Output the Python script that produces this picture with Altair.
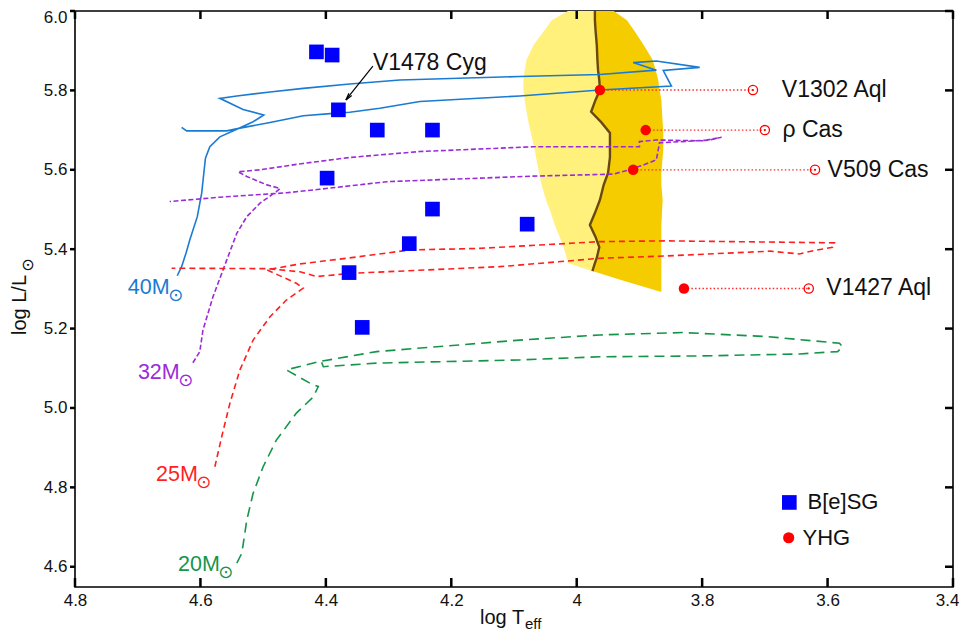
import altair as alt
import pandas as pd

FONT = "Liberation Sans"

# ---------------- data (log Teff, log L/Lsun) ----------------
bsg_teff = [4.415, 4.390, 4.380, 4.318, 4.230, 4.398, 4.230, 4.079, 4.267, 4.363, 4.342]
bsg_lum = [5.897, 5.889, 5.751, 5.700, 5.700, 5.579, 5.501, 5.463, 5.414, 5.341, 5.203]

yhg_names = ["V1302 Aql", "ρ Cas", "V509 Cas", "V1427 Aql"]
yhg_teff = [3.963, 3.890, 3.910, 3.829]
yhg_lum = [5.801, 5.700, 5.600, 5.301]
yhg_ref_teff = [3.719, 3.700, 3.620, 3.630]
yhg_label_teff = [3.673, 3.672, 3.600, 3.602]

t40_teff = [4.637, 4.630, 4.623, 4.617, 4.605, 4.598, 4.594, 4.592, 4.585, 4.569, 4.542, 4.516, 4.499,
            4.532, 4.569, 4.542, 4.489, 4.436, 4.362, 4.282, 4.091, 3.963, 3.873, 3.910, 3.873, 3.804,
            3.862, 3.849, 3.963, 4.091, 4.250, 4.314, 4.362, 4.388, 4.436, 4.489, 4.537, 4.558, 4.596,
            4.622, 4.630]
t40_lum = [5.333, 5.356, 5.390, 5.423, 5.482, 5.541, 5.600, 5.629, 5.658, 5.683, 5.702, 5.721, 5.738,
           5.752, 5.780, 5.786, 5.796, 5.805, 5.816, 5.826, 5.835, 5.840, 5.851, 5.870, 5.874, 5.858,
           5.850, 5.811, 5.801, 5.786, 5.772, 5.755, 5.745, 5.742, 5.736, 5.719, 5.705, 5.698, 5.698,
           5.698, 5.707]

t32_teff = [4.612, 4.601, 4.596, 4.580, 4.558, 4.542, 4.526, 4.505, 4.479, 4.473, 4.494, 4.526, 4.540,
            4.505, 4.436, 4.362, 4.250, 4.070, 3.900, 3.900, 3.873, 3.799, 3.769, 3.788, 3.868, 3.870,
            3.873, 3.894, 3.916, 3.942, 4.070, 4.303, 4.325, 4.410, 4.463, 4.569, 4.649]
t32_lum = [5.114, 5.142, 5.196, 5.280, 5.373, 5.440, 5.482, 5.516, 5.545, 5.553, 5.562, 5.583, 5.595,
           5.600, 5.616, 5.631, 5.646, 5.658, 5.658, 5.671, 5.675, 5.673, 5.682, 5.675, 5.668, 5.650,
           5.625, 5.612, 5.600, 5.589, 5.584, 5.570, 5.566, 5.551, 5.542, 5.531, 5.520]

t25_teff = [4.577, 4.566, 4.553, 4.537, 4.516, 4.489, 4.463, 4.436, 4.447, 4.494, 4.441, 4.362, 4.266,
            4.155, 3.963, 3.857, 3.589, 3.592, 3.623, 3.645, 3.692, 3.857, 3.963, 4.123, 4.362, 4.415,
            4.441, 4.494, 4.646]
t25_lum = [4.852, 4.928, 5.012, 5.096, 5.171, 5.230, 5.272, 5.302, 5.314, 5.348, 5.363, 5.378, 5.398,
           5.402, 5.419, 5.421, 5.416, 5.405, 5.396, 5.388, 5.395, 5.383, 5.377, 5.356, 5.339, 5.331,
           5.343, 5.351, 5.352]

t20_teff = [4.542, 4.534, 4.526, 4.516, 4.500, 4.479, 4.447, 4.420, 4.412, 4.425, 4.463, 4.410, 4.319,
            4.091, 3.963, 3.831, 3.698, 3.581, 3.576, 3.584, 3.645, 3.804, 3.963, 4.091, 4.319, 4.404,
            4.410]
t20_lum = [4.609, 4.634, 4.718, 4.785, 4.852, 4.919, 4.987, 5.028, 5.054, 5.062, 5.096, 5.117, 5.142,
           5.171, 5.184, 5.190, 5.180, 5.163, 5.154, 5.142, 5.136, 5.131, 5.129, 5.121, 5.113, 5.104,
           5.128]

track_labels = ["40M", "32M", "25M", "20M"]
track_label_teff = [4.649, 4.633, 4.604, 4.569]
track_label_lum = [5.302, 5.088, 4.831, 4.605]
track_colors = ["#1a7bd3", "#9b2ad8", "#ff1f1f", "#16954a"]

# yellow void region
reg_lum = [6.000, 5.977, 5.952, 5.914, 5.877, 5.851, 5.826, 5.801, 5.776, 5.746, 5.720, 5.693,
           5.650, 5.632, 5.592, 5.562, 5.524, 5.491, 5.461, 5.431, 5.405, 5.378, 5.365, 5.345]
light_left = [4.014, 4.040, 4.051, 4.069, 4.080, 4.083, 4.085, 4.085, 4.083, 4.080, 4.077, 4.073,
              4.067, 4.065, 4.060, 4.056, 4.049, 4.041, 4.035, 4.027, 4.021, 4.016, 4.014, 3.976]
brown_teff = [3.971, 3.971, 3.970, 3.968, 3.967, 3.966, 3.964, 3.963, 3.970, 3.977, 3.961, 3.947,
              3.947, 3.947, 3.950, 3.957, 3.963, 3.971, 3.979, 3.970, 3.964, 3.968, 3.971, 3.975]
gold_right = [3.941, 3.920, 3.909, 3.893, 3.879, 3.874, 3.870, 3.868, 3.865, 3.864, 3.863, 3.862,
              3.862, 3.863, 3.865, 3.865, 3.863, 3.864, 3.865, 3.865, 3.865, 3.865, 3.865, 3.865]
gold_tail_lum = [5.322, 5.292]
gold_tail_left = [3.928, 3.865]
gold_tail_right = [3.865, 3.865]

x_ticks = [4.8, 4.6, 4.4, 4.2, 4.0, 3.8, 3.6, 3.4]
y_ticks = [4.6, 4.8, 5.0, 5.2, 5.4, 5.6, 5.8, 6.0]

# ---------------- scales / helpers ----------------
W, H = 878, 576
xsc = alt.Scale(domain=[3.4, 4.8], reverse=True, nice=False, zero=False)
ysc = alt.Scale(domain=[4.549, 6.0], nice=False, zero=False)


def xe(f):
    return alt.X(f"{f}:Q", scale=xsc, axis=None)


def ye(f):
    return alt.Y(f"{f}:Q", scale=ysc, axis=None)


def tdf(xs, ys):
    return pd.DataFrame({"teff": xs, "lum": ys, "i": list(range(len(xs)))})


light_df = pd.DataFrame({"lum": reg_lum, "left": light_left, "right": brown_teff})
gold_df = pd.DataFrame({"lum": reg_lum + gold_tail_lum,
                        "left": brown_teff + gold_tail_left,
                        "right": gold_right + gold_tail_right})
brown_df = tdf(brown_teff, reg_lum)

light = alt.Chart(light_df).mark_area(orient="horizontal", color="#fff17c").encode(
    y=ye("lum"), x=xe("left"), x2="right:Q")
gold = alt.Chart(gold_df).mark_area(orient="horizontal", color="#f4cc00").encode(
    y=ye("lum"), x=xe("left"), x2="right:Q")
brown = alt.Chart(brown_df).mark_line(color="#6a4814", strokeWidth=2.4).encode(
    x=xe("teff"), y=ye("lum"), order="i:Q")

tracks = [
    (t40_teff, t40_lum, track_colors[0], None, 1.6),
    (t32_teff, t32_lum, track_colors[1], [5, 2.5], 1.6),
    (t25_teff, t25_lum, track_colors[2], [6, 4], 1.6),
    (t20_teff, t20_lum, track_colors[3], [10, 6], 1.6),
]
track_layers = []
for xs_, ys_, col, dash, sw in tracks:
    kw = dict(color=col, strokeWidth=sw)
    if dash:
        kw["strokeDash"] = dash
    track_layers.append(alt.Chart(tdf(xs_, ys_)).mark_line(**kw).encode(
        x=xe("teff"), y=ye("lum"), order="i:Q"))

yhg_df = pd.DataFrame({"name": yhg_names, "teff": yhg_teff, "lum": yhg_lum,
                       "ref": yhg_ref_teff, "lab": yhg_label_teff})
dotted = alt.Chart(yhg_df).mark_rule(color="#ff2a2a", strokeWidth=1.3, strokeDash=[1.5, 2.2]).encode(
    x=xe("teff"), x2="ref:Q", y=ye("lum"))
open_c = alt.Chart(yhg_df).mark_point(shape="circle", filled=False, size=85, strokeWidth=1.3,
                                      color="#ff0000", opacity=1).encode(x=xe("ref"), y=ye("lum"))
open_dot = alt.Chart(yhg_df).mark_point(shape="circle", filled=True, size=5, color="#ff0000",
                                        opacity=1).encode(x=xe("ref"), y=ye("lum"))
yhg_pts = alt.Chart(yhg_df).mark_point(shape="circle", filled=True, size=110, color="#ff0000",
                                       opacity=1).encode(x=xe("teff"), y=ye("lum"))
yhg_txt = alt.Chart(yhg_df).mark_text(align="left", baseline="middle", fontSize=23, font=FONT,
                                      color="#111111").encode(x=xe("lab"), y=ye("lum"), text="name:N")

bsg_df = pd.DataFrame({"teff": bsg_teff, "lum": bsg_lum})
bsg_pts = alt.Chart(bsg_df).mark_point(shape="square", filled=True, size=215, color="#0000ff",
                                       opacity=1).encode(x=xe("teff"), y=ye("lum"))

# V1478 Cyg annotation
ann_df = pd.DataFrame({"t0": [4.325], "l0": [5.861], "t1": [4.368], "l1": [5.776],
                       "tt": [4.325], "lt": [5.868], "name": ["V1478 Cyg"]})
arrow_line = alt.Chart(ann_df).mark_rule(color="black", strokeWidth=1.2).encode(
    x=xe("t0"), y=ye("l0"), x2="t1:Q", y2="l1:Q")
arrow_head = alt.Chart(ann_df).mark_point(shape="M-0.5,2L0,0L0.5,2", filled=False, size=49,
                                          strokeWidth=1.3, color="black", angle=218.8,
                                          opacity=1).encode(x=xe("t1"), y=ye("l1"))
ann_txt = alt.Chart(ann_df).mark_text(align="left", baseline="middle", fontSize=23, font=FONT,
                                      color="#111111").encode(x=xe("tt"), y=ye("lt"), text="name:N")

# track labels
tl_df = pd.DataFrame({"lab": track_labels, "teff": track_label_teff, "lum": track_label_lum,
                      "col": track_colors, "sun": ["⊙"] * 4})
tl_txt = alt.Chart(tl_df).mark_text(align="right", baseline="middle", fontSize=21.5, font=FONT).encode(
    x=xe("teff"), y=ye("lum"), text="lab:N", color=alt.Color("col:N", scale=None))
tl_sun = alt.Chart(tl_df).mark_text(align="center", baseline="middle", fontSize=18, font="DejaVu Sans",
                                    dx=6, dy=8).encode(
    x=xe("teff"), y=ye("lum"), text="sun:N", color=alt.Color("col:N", scale=None))

# legend
leg_df = pd.DataFrame({"teff": [3.661], "lum": [4.762], "tx": [3.632], "name": ["B[e]SG"]})
leg2_df = pd.DataFrame({"teff": [3.662], "lum": [4.673], "tx": [3.640], "name": ["YHG"]})
leg_sq = alt.Chart(leg_df).mark_point(shape="square", filled=True, size=215, color="#0000ff",
                                      opacity=1).encode(x=xe("teff"), y=ye("lum"))
leg_sq_t = alt.Chart(leg_df).mark_text(align="left", baseline="middle", fontSize=22, font=FONT,
                                       color="#111111").encode(x=xe("tx"), y=ye("lum"), text="name:N")
leg_ci = alt.Chart(leg2_df).mark_point(shape="circle", filled=True, size=125, color="#ff0000",
                                       opacity=1).encode(x=xe("teff"), y=ye("lum"))
leg_ci_t = alt.Chart(leg2_df).mark_text(align="left", baseline="middle", fontSize=22, font=FONT,
                                        color="#111111").encode(x=xe("tx"), y=ye("lum"), text="name:N")

# axis titles (with subscripts)
one = pd.DataFrame({"a": [0]})
xt1 = alt.Chart(one).mark_text(align="left", baseline="middle", fontSize=20, font=FONT, color="#111111").encode(
    x=alt.value(405), y=alt.value(607), text=alt.value("log T"))
xt2 = alt.Chart(one).mark_text(align="left", baseline="middle", fontSize=15, font=FONT, color="#111111").encode(
    x=alt.value(450), y=alt.value(613), text=alt.value("eff"))
yt1 = alt.Chart(one).mark_text(align="center", baseline="middle", fontSize=20, font=FONT, angle=270,
                               color="#111111").encode(
    x=alt.value(-55), y=alt.value(294), text=alt.value("log L/L"))
yt2 = alt.Chart(one).mark_text(align="center", baseline="middle", fontSize=16, font="DejaVu Sans", angle=270,
                               color="#111111").encode(
    x=alt.value(-47), y=alt.value(254), text=alt.value("⊙"))

# tick marks drawn at the tick values (inward on bottom/top/right, outward on left)
xt_df = pd.DataFrame({"v": x_ticks})
yt_df = pd.DataFrame({"v": y_ticks})
TK = dict(color="black", strokeWidth=2.5)
tick_bottom = alt.Chart(xt_df).mark_rule(**TK).encode(
    x=xe("v"), y=alt.value(H), y2=alt.value(H - 9))
tick_top = alt.Chart(xt_df).mark_rule(**TK).encode(
    x=xe("v"), y=alt.value(0), y2=alt.value(8))
tick_right = alt.Chart(yt_df).mark_rule(**TK).encode(
    y=ye("v"), x=alt.value(W), x2=alt.value(W - 8))
tick_left = alt.Chart(yt_df).mark_rule(**TK).encode(
    y=ye("v"), x=alt.value(0), x2=alt.value(-5))

# axes carrying the tick labels
last_x = {"condition": {"test": "datum.value < 3.41", "value": "right"}, "value": "center"}
last_x_off = {"condition": {"test": "datum.value < 3.41", "value": 6}, "value": 0}
anchor = pd.DataFrame({"t": [4.0], "l": [5.0]})
ax_main = alt.Chart(anchor).mark_point(opacity=0).encode(
    x=alt.X("t:Q", scale=xsc, axis=alt.Axis(orient="bottom", values=x_ticks, format="~g", ticks=False,
                                             labelPadding=5, labelFlush=False, labelOverlap=False,
                                             labelAlign=last_x, labelOffset=last_x_off,
                                             labelFontSize=17, labelFont=FONT, labelColor="#111111",
                                             grid=False, domain=False, title=None)),
    y=alt.Y("l:Q", scale=ysc, axis=alt.Axis(orient="left", values=y_ticks, format=".1f", ticks=False,
                                             labelPadding=8, labelOverlap=False, labelFlush=1,
                                             labelFlushOffset=2,
                                             labelFontSize=17, labelFont=FONT, labelColor="#111111",
                                             grid=False, domain=False, title=None)))

chart = alt.layer(
    light, gold, brown, *track_layers, dotted, open_c, open_dot, yhg_pts, bsg_pts,
    arrow_line, arrow_head, ann_txt, yhg_txt, tl_txt, tl_sun,
    leg_sq, leg_sq_t, leg_ci, leg_ci_t, xt1, xt2, yt1, yt2,
    tick_bottom, tick_top, tick_right, tick_left, ax_main,
).resolve_axis(x="independent", y="independent").properties(
    width=W, height=H,
    autosize=alt.AutoSizeParams(type="none"),
    padding={"left": 67, "top": 3, "right": 6, "bottom": 46},
    background="white",
).configure_view(stroke="black", strokeWidth=1.6).configure_axis(
    labelFontSize=17, labelFont=FONT, labelColor="#111111", grid=False, domain=False
)

chart.save("out.html", embed_options={"renderer": "svg", "actions": False})
